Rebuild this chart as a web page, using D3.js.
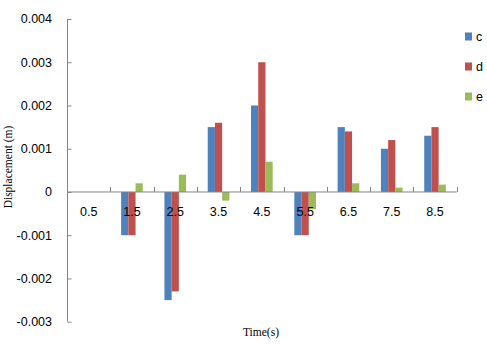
<!DOCTYPE html>
<html><head><meta charset="utf-8">
<script src="https://cdn.jsdelivr.net/npm/d3@7"></script>
<style>body{margin:0;background:#fff}svg{display:block}</style>
</head><body>
<svg id="chart" width="487" height="344"></svg>
<script>
const categories = ["0.5","1.5","2.5","3.5","4.5","5.5","6.5","7.5","8.5"];
const seriesNames = ["c","d","e"];
const seriesC = [0, -0.001, -0.0025, 0.0015, 0.002, -0.001, 0.0015, 0.001, 0.0013];
const seriesD = [0, -0.001, -0.0023, 0.0016, 0.003, -0.001, 0.0014, 0.0012, 0.0015];
const seriesE = [0, 0.0002, 0.0004, -0.0002, 0.0007, -0.0004, 0.0002, 0.0001, 0.00017];
const yTicks = [-0.003, -0.002, -0.001, 0, 0.001, 0.002, 0.003, 0.004];
const colors = ["#4F81BD", "#C0504D", "#9BBB59"];
const titleX = "Time(s)";
const titleY = "Displacement (m)";

const seriesVals = [seriesC, seriesD, seriesE];
const svg = d3.select("#chart");
const axisColor = "#868686";
const sans = "'Liberation Sans', Arial, sans-serif";
const serif = "'Liberation Serif', 'Times New Roman', serif";

const x = d3.scaleBand().domain(categories).range([67, 456.7]).paddingInner(0).paddingOuter(0);
const xs = d3.scaleBand().domain(seriesNames).range([0, x.bandwidth()]).paddingInner(0).paddingOuter(1.5);
const y = d3.scaleLinear().domain([-0.003, 0.004]).range([321.7, 19]);

// bars
seriesNames.forEach((s, si) => {
  svg.append("g").selectAll("rect")
    .data(categories.map((c, i) => ({c, v: seriesVals[si][i]})))
    .join("rect")
    .attr("x", d => x(d.c) + xs(s))
    .attr("width", xs.bandwidth())
    .attr("y", d => Math.min(y(d.v), y(0)))
    .attr("height", d => Math.abs(y(d.v) - y(0)))
    .attr("fill", colors[si]);
});

// y axis
const fmt = v => v === 0 ? "0" : d3.format(".3f")(v).replace("\u2212", "-");
const yAxis = svg.append("g").attr("transform", "translate(67,0)")
  .call(d3.axisRight(y).tickValues(yTicks).tickSize(4).tickFormat(""));
yAxis.select(".domain").attr("stroke", axisColor).attr("d", `M0.5,${y(0.004)}V${y(-0.003)}`);
yAxis.selectAll(".tick line").attr("stroke", axisColor).attr("x1", 0.5).attr("x2", 4.5);
svg.append("g").selectAll("text").data(yTicks).join("text")
  .attr("x", 52).attr("y", d => y(d)).attr("dy", "0.35em")
  .attr("text-anchor", "end").attr("font-family", sans).attr("font-size", 12.5)
  .attr("fill", "#000").text(fmt);

// x axis at zero
const xAxisG = svg.append("g").attr("transform", `translate(0,${y(0)})`);
xAxisG.append("line").attr("x1", 67).attr("x2", 456.7).attr("y1", 0).attr("y2", 0)
  .attr("stroke", axisColor);
const bounds = categories.map(c => x(c)).concat([x(categories[categories.length-1]) + x.bandwidth()]);
xAxisG.selectAll("line.t").data(bounds.slice(1)).join("line").attr("class","t")
  .attr("x1", d => Math.round(d) + 0.5).attr("x2", d => Math.round(d) + 0.5)
  .attr("y1", 0).attr("y2", -5).attr("stroke", axisColor);
xAxisG.selectAll("text").data(categories).join("text")
  .attr("x", d => x(d) + x.bandwidth()/2).attr("y", 20).attr("dy", "0.35em")
  .attr("text-anchor", "middle").attr("font-family", sans).attr("font-size", 12.5)
  .attr("fill", "#000").text(d => d);

// titles
svg.append("text").attr("x", 261).attr("y", 332).attr("dy", "0.35em")
  .attr("text-anchor", "middle").attr("font-family", serif).attr("font-size", 11.5)
  .text(titleX);
svg.append("text").attr("transform", "translate(8,167) rotate(-90)").attr("dy", "0.35em")
  .attr("text-anchor", "middle").attr("font-family", serif).attr("font-size", 11.5)
  .text(titleY);

// legend
const lg = svg.append("g");
seriesNames.forEach((s, i) => {
  const cy = 36.5 + i * 30;
  lg.append("rect").attr("x", 465).attr("y", cy - 4).attr("width", 7).attr("height", 8).attr("fill", colors[i]);
  lg.append("text").attr("x", 476).attr("y", cy).attr("dy", "0.35em")
    .attr("font-family", sans).attr("font-size", 12.5).text(s);
});
</script>
</body></html>
